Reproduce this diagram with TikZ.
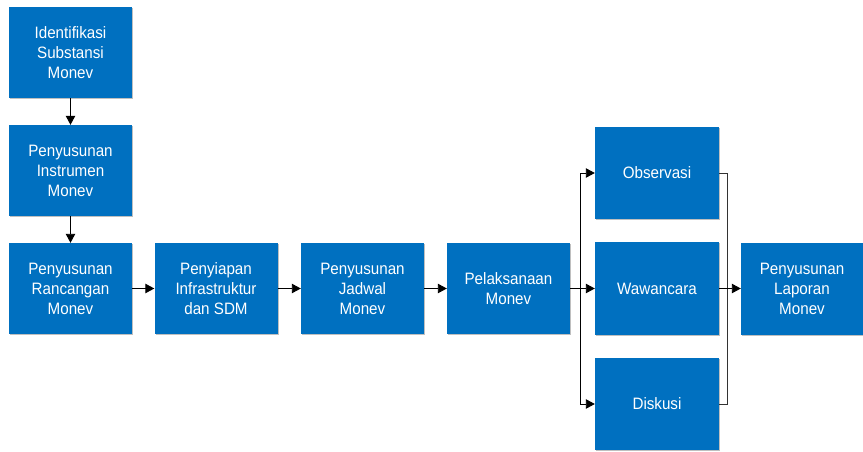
\documentclass[tikz,border=0pt]{standalone}
\usepackage{fontspec}
\setmainfont[FakeStretch=0.92]{Liberation Sans}
\usetikzlibrary{arrows.meta,shadows}
\definecolor{boxblue}{HTML}{0070C0}
\begin{document}
\begin{tikzpicture}[x=1pt,y=-1pt,
  stepbox/.style={fill=boxblue, draw=none, text=white, align=center,
    minimum width=123pt, minimum height=91pt, inner sep=0pt,
    font=\fontsize{16.5}{20}\selectfont,
    drop shadow={shadow xshift=1.2pt, shadow yshift=-1.2pt, opacity=0.25, fill=black}},
  arr/.style={draw=black, line width=0.9pt, -{Triangle[length=9pt,width=9.5pt]}},
  mergeline/.style={draw=black!80, line width=0.9pt}]
\useasboundingbox (0,0) rectangle (863,452);

% main chain
\node[stepbox] (b1) at (70.5,52.5) {Identifikasi\\Substansi\\Monev};
\node[stepbox] (b2) at (70.5,170.5) {Penyusunan\\Instrumen\\Monev};
\node[stepbox] (b3) at (70.5,288.5) {Penyusunan\\Rancangan\\Monev};
\node[stepbox] (b4) at (216,288.5) {Penyiapan\\Infrastruktur\\dan SDM};
\node[stepbox] (b5) at (362.5,288.5) {Penyusunan\\Jadwal\\Monev};
\node[stepbox] (b6) at (508.5,288.5) {Pelaksanaan\\Monev};

% parallel activities
\node[stepbox, minimum width=124pt, minimum height=92pt] (obs) at (657,173) {Observasi};
\node[stepbox, minimum width=124pt, minimum height=93pt] (waw) at (657,288.5) {Wawancara};
\node[stepbox, minimum width=124pt, minimum height=92pt] (dis) at (657,404) {Diskusi};

% report
\node[stepbox, minimum width=122pt, minimum height=92pt] (lap) at (802,288.5) {Penyusunan\\Laporan\\Monev};

% connectors
\draw[arr] (b1) -- (b2);
\draw[arr] (b2) -- (b3);
\draw[arr] (b3) -- (b4);
\draw[arr] (b4) -- (b5);
\draw[arr] (b5) -- (b6);
\draw[arr] (b6) -- (waw);
\coordinate (split) at (580,288.5);
\draw[arr] (split) |- (obs.west);
\draw[arr] (split) |- (dis.west);
\coordinate (merge) at (727,288.5);
\draw[mergeline] (obs.east) -| (merge);
\draw[mergeline] (dis.east) -| (merge);
\draw[arr] (waw) -- (lap);
\end{tikzpicture}
\end{document}
